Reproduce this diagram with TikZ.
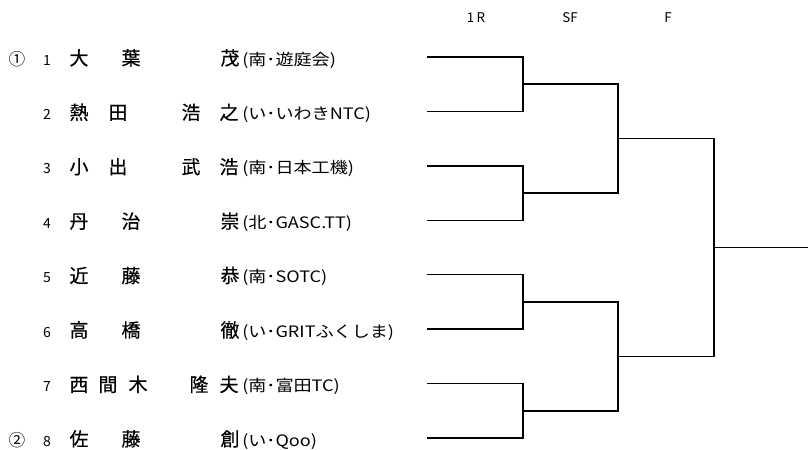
\documentclass[tikz,border=0pt]{standalone}
\usepackage{fontspec}
\setmainfont{Noto Sans CJK JP}
\newfontfamily\namefont{Noto Sans CJK JP}[FakeBold=0.5]
\newfontfamily\clubfont{Noto Sans CJK JP}[FakeStretch=1.15]
\usetikzlibrary{positioning, calc}

\begin{document}
\begin{tikzpicture}[x=0.75pt, y=-0.75pt,
    namechar/.style={font=\namefont\fontsize{14.2}{14.2}\selectfont, anchor=base, inner sep=0pt},
    club/.style={font=\clubfont\fontsize{11.8}{11.8}\selectfont, anchor=base west, inner sep=0pt},
    drawno/.style={font=\fontsize{10.5}{10.5}\selectfont, anchor=base, inner sep=0pt},
    seedmark/.style={font=\fontsize{12.5}{12.5}\selectfont, anchor=base, inner sep=0pt},
    roundlabel/.style={font=\fontsize{10}{10}\selectfont, inner sep=0pt},
    bracket/.style={line width=1.1pt}]

  \useasboundingbox (0,0) rectangle (808,450);

  % round headers
  \node[roundlabel] (h1R) at (476,18) {1\,R};
  \node[roundlabel] (hSF) at (570,18) {SF};
  \node[roundlabel] (hF)  at (668,18) {F};

  % draw positions
  \foreach \k in {1,...,8} {
    \coordinate (e\k) at (427,{57+54.43*(\k-1)});
    \node[drawno] (n\k) at ($(e\k)+(-380,8)$) {\k};
  }

  % seeds
  \node[seedmark] (seed1) at ($(e1)+(-410,8)$) {①};
  \node[seedmark] (seed2) at ($(e8)+(-410,8)$) {②};

  % players: one character per cell, then the club
  \foreach \k/\cells/\aff [evaluate=\k as \y using 65+54.43*(\k-1)] in {
      1/{79/大,131/葉,230/茂}/{(南･遊庭会)},
      2/{79/熱,118/田,191/浩,229/之}/{(い･いわきNTC)},
      3/{79/小,118/出,191/武,229/浩}/{(南･日本工機)},
      4/{79/丹,131/治,230/崇}/{(北･GASC.TT)},
      5/{79/近,131/藤,230/恭}/{(南･SOTC)},
      6/{79/高,131/橋,230/徹}/{(い･GRITふくしま)},
      7/{79/西,108/間,138/木,199/隆,229/夫}/{(南･富田TC)},
      8/{79/佐,131/藤,230/創}/{(い･Qoo)}} {
    \foreach \x/\c [count=\j] in \cells
      \node[namechar] (p\k-\j) at (\x,\y) {\c};
    \node[club] (club\k) at (242,\y) {\aff};
  }

  % first round
  \foreach \i/\a/\b in {1/1/2, 2/3/4, 3/5/6, 4/7/8} {
    \coordinate (m\i) at ($(e\a)!.5!(e\b)+(96,0)$);
    \draw[bracket] (e\a) -| (m\i) |- (e\b);
  }

  % semifinals
  \foreach \i/\a/\b in {1/1/2, 2/3/4} {
    \coordinate (s\i) at ($(m\a)!.5!(m\b)+(95,0)$);
    \draw[bracket] (m\a) -| (s\i) |- (m\b);
  }

  % final
  \coordinate (fin) at ($(s1)!.5!(s2)+(96,0)$);
  \coordinate (champ) at (808,0 |- fin);
  \draw[bracket] (s1) -| (fin) |- (s2);
  \draw[bracket] (fin) -- (champ);
\end{tikzpicture}
\end{document}
